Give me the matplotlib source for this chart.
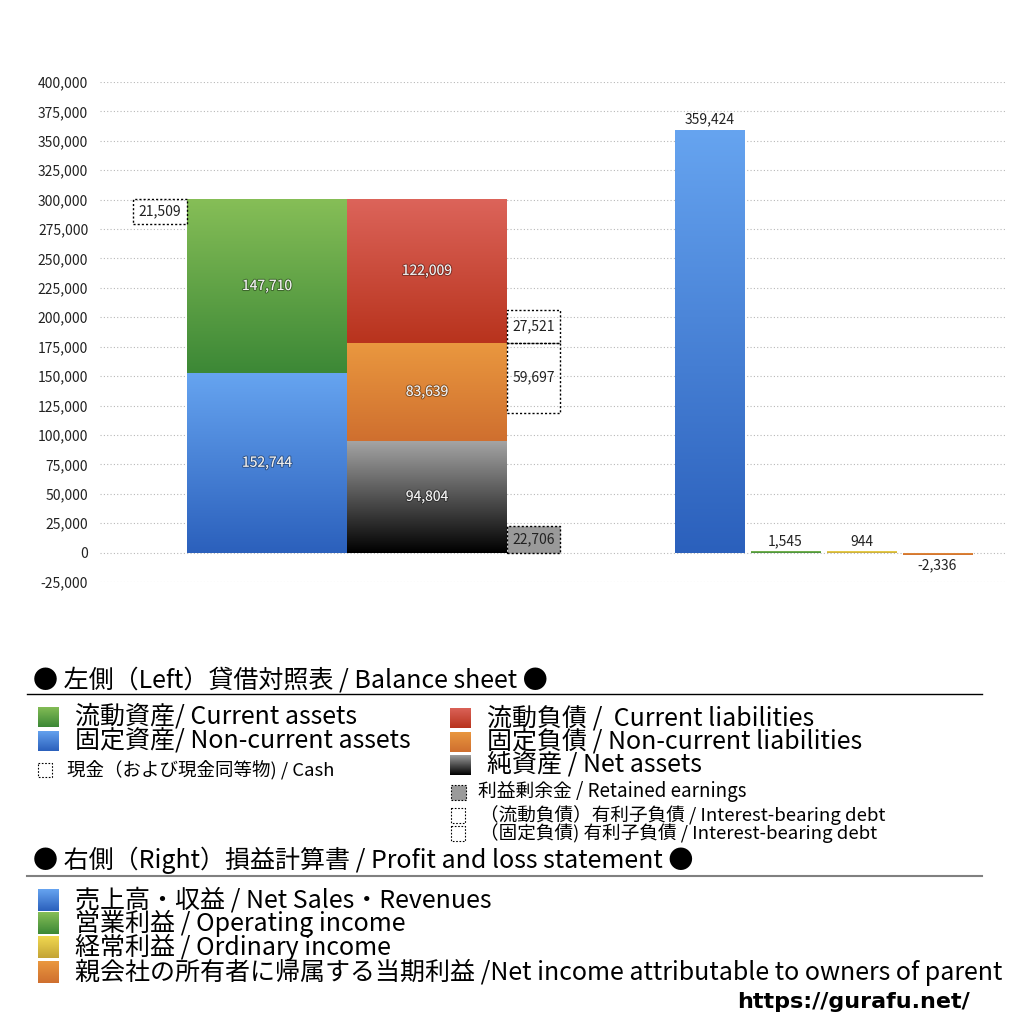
import numpy as np
import matplotlib
matplotlib.use("Agg")
import matplotlib.pyplot as plt
import matplotlib.patheffects as pe
from matplotlib.colors import LinearSegmentedColormap
from matplotlib.patches import Rectangle
from matplotlib.ticker import FuncFormatter, MultipleLocator

plt.rcParams["font.family"] = ["Noto Sans CJK JP", "DejaVu Sans"]

# --- balance sheet (left side) ---
current_assets = 147710
noncurrent_assets = 152744
cash = 21509
current_liab = 122009
noncurrent_liab = 83639
net_assets = 94804
retained_earnings = 22706
ibd_current = 27521
ibd_noncurrent = 59697

# --- profit and loss (right side) ---
pl_values = [359424, 1545, 944, -2336]

# --- legend texts ---
title_bs = "● 左側（Left）貸借対照表 / Balance sheet ●"
title_pl = "● 右側（Right）損益計算書 / Profit and loss statement ●"
bs_left_labels = ["流動資産/ Current assets", "固定資産/ Non-current assets"]
cash_label = "現金（および現金同等物) / Cash"
bs_right_labels = ["流動負債 /  Current liabilities", "固定負債 / Non-current liabilities",
                   "純資産 / Net assets"]
retained_label = "利益剰余金 / Retained earnings"
ibd_labels = ["（流動負債）有利子負債 / Interest-bearing debt",
              "（固定負債) 有利子負債 / Interest-bearing debt"]
pl_labels = ["売上高・収益 / Net Sales・Revenues", "営業利益 / Operating income",
             "経常利益 / Ordinary income",
             "親会社の所有者に帰属する当期利益 /Net income attributable to owners of parent"]
url = "https://gurafu.net/"

# gradient colours (top, bottom)
GREEN = ("#86be57", "#3c8836")
BLUE = ("#66a4f0", "#2b60bc")
RED = ("#dc645a", "#b8331d")
ORANGE = ("#ea983f", "#cf6f2f")
BLACK = ("#a4a4a4", "#000000")
YELLOW = ("#f0d850", "#c4a436")
PL_COLORS = [BLUE, GREEN, YELLOW, ORANGE]


def grad_fill(ax, patch, colors, zorder=1.5):
    """Fill a rectangle patch with a vertical gradient (top -> bottom)."""
    x, y = patch.get_x(), patch.get_y()
    w, h = patch.get_width(), patch.get_height()
    cmap = LinearSegmentedColormap.from_list("g", [colors[1], colors[0]])
    g = np.linspace(0, 1, 256).reshape(-1, 1)
    im = ax.imshow(g, cmap=cmap, origin="lower", aspect="auto", zorder=zorder,
                   extent=(x, x + w, min(y, y + h), max(y, y + h)))
    im.set_clip_path(patch)


def inner_label(ax, x, y, v):
    ax.text(x, y, f"{v:,}", ha="center", va="center", fontsize=10, color="#f2f2f2",
            zorder=5, path_effects=[pe.withStroke(linewidth=1.5, foreground=(0, 0, 0, 0.35))])


fig = plt.figure(figsize=(10.24, 10.24), dpi=100)
ax = fig.add_axes([100 / 1024, 442 / 1024, 905 / 1024, 500 / 1024])

col_w, side_w, pl_w = 2.105, 0.70, 0.91
assets_x, liab_x, cash_x, side_x = 2.197, 4.303, 0.79, 5.704
pl_x = 8.02 + np.arange(len(pl_values))

# assets column
b1 = ax.bar(assets_x, noncurrent_assets, col_w, color="none")
b2 = ax.bar(assets_x, current_assets, col_w, bottom=noncurrent_assets, color="none")
grad_fill(ax, b1[0], BLUE)
grad_fill(ax, b2[0], GREEN)
inner_label(ax, assets_x, noncurrent_assets / 2, noncurrent_assets)
inner_label(ax, assets_x, noncurrent_assets + current_assets / 2, current_assets)

# liabilities + net assets column
nc_bottom = net_assets
cl_bottom = net_assets + noncurrent_liab
b3 = ax.bar(liab_x, net_assets, col_w, color="none")
b4 = ax.bar(liab_x, noncurrent_liab, col_w, bottom=nc_bottom, color="none")
b5 = ax.bar(liab_x, current_liab, col_w, bottom=cl_bottom, color="none")
grad_fill(ax, b3[0], BLACK)
grad_fill(ax, b4[0], ORANGE)
grad_fill(ax, b5[0], RED)
inner_label(ax, liab_x, net_assets / 2, net_assets)
inner_label(ax, liab_x, nc_bottom + noncurrent_liab / 2, noncurrent_liab)
inner_label(ax, liab_x, cl_bottom + current_liab / 2, current_liab)

# dotted boxes
dot = (0, (1.5, 1.5))
top_assets = noncurrent_assets + current_assets
boxes = [
    (cash_x, top_assets - cash, cash, "none"),
    (side_x, 0, retained_earnings, "#9a9a9a"),
    (side_x, cl_bottom, ibd_current, "none"),
    (side_x, cl_bottom - ibd_noncurrent, ibd_noncurrent, "none"),
]
for x, bot, h, fc in boxes:
    ax.bar(x, h, side_w, bottom=bot, facecolor=fc, edgecolor="black",
           linestyle=dot, linewidth=1, zorder=3)
    ax.text(x, bot + h / 2, f"{h:,}", ha="center", va="center", fontsize=10,
            color="#222222", zorder=5)

# profit and loss bars
bars = ax.bar(pl_x, pl_values, pl_w, color="none")
for b, c, v in zip(bars, PL_COLORS, pl_values):
    grad_fill(ax, b, c)
    cx = b.get_x() + b.get_width() / 2
    if v >= 0:
        ax.text(cx, v + 2500, f"{v:,}", ha="center", va="bottom", fontsize=10, color="#222222")
    else:
        ax.text(cx, v - 2500, f"{v:,}", ha="center", va="top", fontsize=10, color="#222222")

ax.set_xlim(0, 905 / 76)
ax.set_ylim(-25000, 400000)
ax.yaxis.set_major_locator(MultipleLocator(25000))
ax.yaxis.set_major_formatter(FuncFormatter(lambda v, p: f"{int(v):,}"))
ax.tick_params(axis="y", length=0, pad=8.5, labelsize=10, labelcolor="#222222")
ax.set_xticks([])
for s in ax.spines.values():
    s.set_visible(False)
ax.set_axisbelow(True)
ax.yaxis.grid(True, linestyle=(0, (1, 2)), color="#b8b8b8", linewidth=0.8)

# --- legend area drawn in pixel coordinates ---
lg = fig.add_axes([0, 0, 1, 1])
lg.set_xlim(0, 1024)
lg.set_ylim(1024, 0)
lg.axis("off")
lg.patch.set_visible(False)


def square(x, y, w, h, colors=None, fc="none", dotted=False):
    r = Rectangle((x, y - h / 2), w, h, facecolor=fc,
                  edgecolor="black" if dotted else "none",
                  linestyle=dot, linewidth=0.8)
    lg.add_patch(r)
    if colors is not None:
        cmap = LinearSegmentedColormap.from_list("g", [colors[0], colors[1]])
        g = np.linspace(0, 1, 64).reshape(-1, 1)
        im = lg.imshow(g, cmap=cmap, aspect="auto", origin="upper",
                       extent=(x, x + w, y + h / 2, y - h / 2))
        im.set_clip_path(r)


lg.text(33, 681, title_bs, fontsize=18, va="center", color="black")
lg.plot([27, 982], [694, 694], color="black", lw=1)
for yy, c, t in zip([717, 741], [GREEN, BLUE], bs_left_labels):
    square(38, yy, 21, 21, c)
    lg.text(75, yy, t, fontsize=18, va="center")
square(38, 770, 14, 14, dotted=True)
lg.text(67, 770, cash_label, fontsize=13.3, va="center")
for yy, c, t in zip([718, 742, 765], [RED, ORANGE, BLACK], bs_right_labels):
    square(450, yy, 21, 21, c)
    lg.text(487, yy, t, fontsize=18, va="center")
square(451, 792, 15, 15, fc="#9a9a9a", dotted=True)
lg.text(478, 792, retained_label, fontsize=13.5, va="center")
for yy, t in zip([815, 833], ibd_labels):
    square(451, yy, 14, 15, dotted=True)
    lg.text(480, yy, t, fontsize=13.4, va="center")

lg.text(33, 860, title_pl, fontsize=18, va="center", color="black")
lg.plot([27, 982], [876, 876], color="#808080", lw=1.5)
for yy, c, t in zip([900, 923, 947, 972], PL_COLORS, pl_labels):
    square(38, yy, 21, 22, c)
    lg.text(75, yy, t, fontsize=18, va="center")
lg.text(970, 1002, url, fontsize=16, fontweight="bold", ha="right", va="center",
        family=["DejaVu Sans"])

fig.savefig("out.png", dpi=100)
